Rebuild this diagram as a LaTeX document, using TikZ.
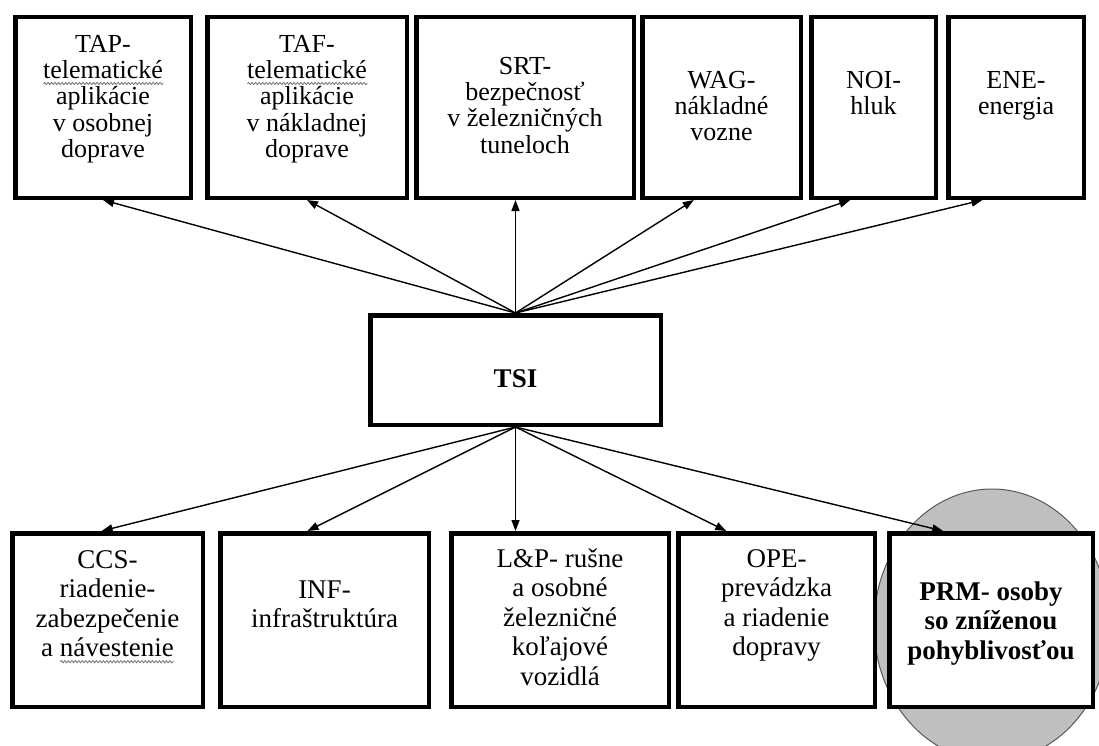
\documentclass[tikz,border=0pt]{standalone}
\usepackage{fontspec}
\setmainfont{Liberation Serif}
\usetikzlibrary{arrows.meta,calc,decorations.pathmorphing}
\tikzset{squiggle/.style={draw=black!55,line width=0.8pt,decorate,decoration={snake,amplitude=1.1pt,segment length=3.5pt}}}
\newsavebox\squigbox
\newcommand\squig[1]{\sbox\squigbox{#1}\rlap{\smash{\tikz[baseline=0pt,x=1pt,y=1pt]\path[squiggle] (0,-5) -- (\wd\squigbox,-5);}}\usebox\squigbox}
\begin{document}
\begin{tikzpicture}[x=1pt,y=-1pt,
  box/.style={draw=black,line width=4.5pt,fill=white,inner sep=0pt},
  txttop/.style={anchor=north,align=center,inner sep=0pt,font=\fontsize{26}{26.3}\selectfont},
  txtbot/.style={anchor=north,align=center,inner sep=0pt,font=\fontsize{27}{29.5}\selectfont},
  conn/.style={line width=1.4pt,-{Triangle[length=11pt,width=8pt]}},
  blob/.style={fill=black!25,draw=black!65,line width=1pt}
]
\useasboundingbox (0,0) rectangle (1099,746);
\begin{scope}
\clip (0,0) rectangle (1099,746);
\path[blob] (992,625) ellipse [x radius=118pt, y radius=136pt];
\end{scope}
% top boxes (outer edges y 15..200)
\node[box,minimum width=175.5pt,minimum height=180.5pt] (tap) at (103,107.5) {};
\node[box,minimum width=199.5pt,minimum height=180.5pt] (taf) at (307,107.5) {};
\node[box,minimum width=217.5pt,minimum height=180.5pt] (srt) at (525,107.5) {};
\node[box,minimum width=158.5pt,minimum height=180.5pt] (wag) at (721.5,107.5) {};
\node[box,minimum width=124.5pt,minimum height=180.5pt] (noi) at (873.5,107.5) {};
\node[box,minimum width=135.5pt,minimum height=180.5pt] (ene) at (1016,107.5) {};
% centre box
\node[box,minimum width=290.5pt,minimum height=109.5pt] (tsi) at (515.5,370) {};
% bottom boxes (outer edges y 531..709)
\node[box,minimum width=190.5pt,minimum height=173.5pt] (ccs) at (107.5,620) {};
\node[box,minimum width=208.5pt,minimum height=173.5pt] (inf) at (324.5,620) {};
\node[box,minimum width=217.5pt,minimum height=173.5pt] (lp) at (560,620) {};
\node[box,minimum width=196.5pt,minimum height=173.5pt] (ope) at (776.5,620) {};
\node[box,minimum width=203.5pt,minimum height=173.5pt] (prm) at (991,620) {};
% texts
\node[txttop] (taptext) at (103,30) {\rule{0pt}{22pt}TAP-\\\squig{telematické}\\aplikácie\\v osobnej\\doprave};
\node[txttop] (taftext) at (307,30) {\rule{0pt}{22pt}TAF-\\\squig{telematické}\\aplikácie\\v nákladnej\\doprave};
\node[txttop] (srttext) at (525,52) {\rule{0pt}{22pt}SRT-\\bezpečnosť\\v železničných\\tuneloch};
\node[txttop] (wagtext) at (721.5,66) {\rule{0pt}{22pt}WAG-\\nákladné\\vozne};
\node[txttop] (noitext) at (873.5,66) {\rule{0pt}{22pt}NOI-\\hluk};
\node[txttop] (enetext) at (1016,66) {\rule{0pt}{22pt}ENE-\\energia};
\node[anchor=base,inner sep=0pt,font=\bfseries\fontsize{27}{30}\selectfont] (tsitext) at (515.5,387) {TSI};
\node[txtbot] (ccstext) at (107.5,546) {\rule{0pt}{22pt}CCS-\\riadenie-\\zabezpečenie\\a \squig{návestenie}};
\node[txtbot] (inftext) at (324.5,576) {\rule{0pt}{22pt}INF-\\infraštruktúra};
\node[txtbot] (lptext) at (560,545) {\rule{0pt}{22pt}L\&P- rušne\\a osobné\\železničné\\koľajové\\vozidlá};
\node[txtbot] (opetext) at (776.5,545) {\rule{0pt}{22pt}OPE-\\prevádzka\\a riadenie\\dopravy};
\node[txtbot,font=\bfseries\fontsize{27}{29.5}\selectfont] (prmtext) at (991,578) {\rule{0pt}{22pt}PRM- osoby\\so zníženou\\pohyblivosťou};
% connectors
\draw[conn] (tsi.north) -- (tap.south);
\draw[conn] (tsi.north) -- (taf.south);
\draw[conn] (tsi.north) -- (tsi.north |- srt.south);
\draw[conn] (tsi.north) -- ($(wag.south west)!0.33!(wag.south east)$);
\draw[conn] (tsi.north) -- ($(noi.south west)!0.32!(noi.south east)$);
\draw[conn] (tsi.north) -- ($(ene.south west)!0.26!(ene.south east)$);
\draw[conn] (tsi.south) -- ($(ccs.north west)!0.47!(ccs.north east)$);
\draw[conn] (tsi.south) -- ($(inf.north west)!0.42!(inf.north east)$);
\draw[conn] (tsi.south) -- (tsi.south |- lp.north);
\draw[conn] (tsi.south) -- ($(ope.north west)!0.25!(ope.north east)$);
\draw[conn] (tsi.south) -- ($(prm.north west)!0.27!(prm.north east)$);
\end{tikzpicture}
\end{document}
